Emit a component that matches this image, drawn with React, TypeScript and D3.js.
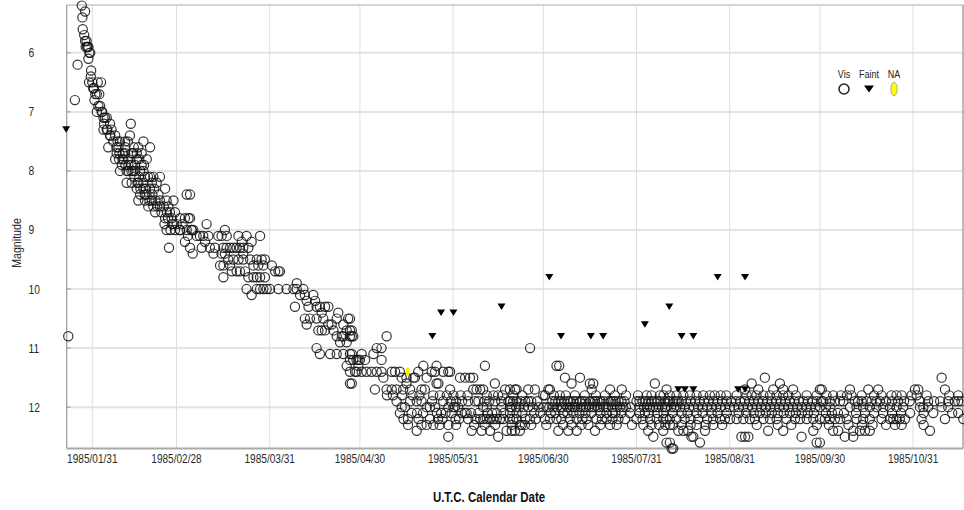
import React from "react";
import * as d3 from "d3";

// Visual estimates, grouped as [magnitude, [day offsets from 1985-01-01 (UTC)]]
type MagRow = [number, number[]];

const visJanFeb: MagRow[] = [
  [5.2, [26.5]],
  [5.3, [27.6]],
  [5.4, [26.7]],
  [5.6, [26.8]],
  [5.7, [27.3]],
  [5.8, [27.6, 28.1]],
  [5.9, [27.8, 28.3, 28.4, 28.7]],
  [6.0, [29.0, 29.3]],
  [6.1, [28.7]],
  [6.2, [25.1]],
  [6.3, [29.6]],
  [6.4, [29.5]],
  [6.5, [28.9, 30.0, 31.8, 32.9]],
  [6.6, [30.3, 30.5]],
  [6.7, [31.0, 31.5, 32.3]],
  [6.8, [24.2, 30.7]],
  [6.9, [32.0, 32.6]],
  [7.0, [31.5, 33.1, 33.3]],
  [7.1, [33.7, 34.2, 34.8]],
  [7.2, [33.9, 35.9, 42.8]],
  [7.3, [33.7, 34.8, 35.0, 36.4]],
  [7.4, [35.9, 36.0, 37.6, 42.5]],
  [7.5, [37.0, 38.4, 39.2, 40.9, 41.8, 47.0]],
  [7.6, [35.3, 38.0, 38.7, 41.0, 43.8, 45.3, 49.2]],
  [7.7, [38.1, 39.0, 40.1, 40.9, 43.1, 43.6, 44.8, 46.4]],
  [7.8, [37.6, 38.9, 40.0, 40.3, 42.0, 44.8, 45.6, 48.1]],
  [7.9, [39.8, 41.0, 42.0, 43.0, 44.2, 46.4, 47.2]],
  [8.0, [39.2, 41.4, 42.0, 43.0, 43.6, 44.3, 45.9, 47.0]],
  [8.1, [44.0, 45.6, 47.5, 48.5, 49.2, 50.3, 52.5]],
  [8.2, [41.4, 43.1, 45.0, 45.3, 47.0, 49.8, 51.4]],
  [8.3, [44.8, 46.0, 47.0, 47.8, 49.2, 50.6, 54.2]],
  [8.4, [45.9, 47.5, 48.0, 50.0, 52.0]],
  [8.5, [45.3, 47.5, 49.0, 49.8, 51.0, 52.5, 54.7, 57.0]],
  [8.6, [48.6, 50.3, 51.6, 52.5, 53.8, 55.3]],
  [8.7, [50.9, 53.0, 54.8, 55.8, 57.5]],
  [8.8, [54.2, 55.2, 56.4]],
  [8.9, [54.0, 56.5, 57.0, 58.1]],
  [9.0, [54.7, 56.0, 57.5]],
  [9.3, [55.5]],
  [10.8, [22.0]],
];

const visMarApr: MagRow[] = [
  [8.4, [61.4, 62.5]],
  [8.8, [59.2, 60.8, 62.0, 62.5]],
  [8.9, [60.0, 68.0]],
  [9.0, [59.1, 59.2, 61.4, 63.0, 63.1, 63.6, 74.1]],
  [9.1, [61.8, 64.7, 65.8, 66.9, 68.6, 71.9, 73.0, 74.7, 78.6, 81.3, 85.8]],
  [9.2, [60.8, 67.5, 79.7, 83.0]],
  [9.3, [62.5, 66.4, 69.1, 70.8, 73.6, 74.7, 75.8, 76.9, 78.0, 79.1, 80.2, 81.9]],
  [9.4, [63.4, 70.3, 73.0, 74.1, 80.2]],
  [9.5, [75.2, 76.9, 78.6, 80.2, 82.5, 84.7, 86.3, 87.4]],
  [9.6, [72.5, 73.6, 75.8, 83.6, 85.2, 86.9, 89.7]],
  [9.7, [76.4, 78.0, 79.1, 80.8, 90.8, 91.9, 92.4]],
  [9.8, [73.6, 81.9, 83.6, 84.7, 85.8, 87.4]],
  [9.9, [98.0]],
  [10.0, [81.3, 84.7, 85.8, 86.9, 88.0, 89.1, 91.9, 94.6, 96.9, 98.0, 100.2]],
  [10.1, [83.0, 99.1, 100.7, 103.5]],
  [10.2, [101.3, 104.1]],
  [10.3, [97.4, 101.9, 104.6, 105.7, 107.4, 108.5]],
  [10.4, [106.3, 111.8]],
  [10.5, [100.7, 102.4, 104.6, 106.8, 111.3, 115.1, 115.7]],
  [10.6, [101.3, 108.5, 109.6, 113.5]],
  [10.7, [105.2, 106.3, 107.4, 110.2, 114.6, 115.7, 116.3]],
  [10.8, [111.3, 113.0, 113.5, 115.7, 116.3, 116.8]],
  [10.9, [112.4, 114.6]],
  [11.0, [104.6]],
  [11.1, [105.7, 109.1, 111.3, 113.5, 115.7, 116.3, 119.6]],
  [11.2, [115.7, 116.8, 117.9, 118.5, 119.0]],
  [11.3, [114.6, 118.5]],
  [11.4, [115.7, 117.4, 117.9, 119.6]],
  [11.6, [115.7, 116.3]],
];

const visMayJun: MagRow[] = [
  [10.8, [127.9]],
  [11.0, [124.6, 126.2, 175.6]],
  [11.1, [123.5]],
  [11.2, [120.7, 126.2]],
  [11.3, [140.1, 144.5, 160.6]],
  [11.4, [121.2, 122.9, 124.6, 126.2, 129.6, 130.7, 132.3, 138.4, 142.9, 144.0, 146.7, 148.4, 149.0]],
  [11.5, [126.8, 132.9, 134.5, 136.8, 137.3, 141.2, 152.3, 154.0, 155.6, 156.7]],
  [11.6, [134.5, 144.5, 145.1, 163.9]],
  [11.7, [124.0, 127.9, 129.6, 131.2, 133.4, 135.7, 139.5, 140.6, 149.0, 156.7, 157.8, 159.0, 160.0, 167.3, 168.9, 170.6, 171.1, 175.0, 177.2]],
  [11.8, [128.0, 130.0, 133.0, 136.5, 138.8, 143.4, 145.6, 147.9, 150.1, 152.5, 154.8, 161.2, 163.4, 165.0, 166.5, 170.0, 173.0, 180.0]],
  [11.9, [131.2, 135.7, 137.9, 139.5, 143.0, 146.7, 149.2, 151.0, 153.0, 155.0, 157.3, 158.4, 160.5, 162.0, 164.0, 166.0, 168.4, 169.0, 170.0, 171.1, 172.5, 174.0, 175.0, 176.0, 178.0]],
  [12.0, [132.9, 134.0, 141.2, 142.3, 144.0, 148.4, 150.1, 150.6, 151.7, 160.0, 161.2, 166.1, 168.9, 169.5, 171.0, 172.0, 173.5, 175.0, 176.5, 178.5, 180.0]],
  [12.1, [132.3, 136.2, 138.0, 140.0, 144.6, 146.0, 147.5, 149.5, 152.8, 153.9, 154.5, 156.0, 158.4, 161.5, 163.0, 164.5, 166.8, 168.9, 171.1, 173.0, 177.0, 179.0]],
  [12.2, [133.5, 135.0, 138.5, 142.3, 145.0, 146.5, 150.8, 152.0, 155.0, 157.5, 159.0, 160.0, 161.2, 162.3, 163.4, 164.5, 165.6, 166.7, 168.9, 170.0, 171.1, 174.0, 175.6, 177.5, 180.5]],
  [12.3, [135.0, 139.5, 141.2, 143.4, 145.5, 148.4, 151.0, 157.0, 160.5, 164.0, 169.5, 172.2, 172.8, 173.9, 176.0]],
  [12.4, [137.9, 156.2, 159.5, 162.3, 167.8, 169.5, 170.6, 172.2]],
  [12.5, [148.4, 165.0]],
];

const visJulAug: MagRow[] = [
  [11.3, [184.4, 185.3]],
  [11.5, [187.2, 192.2]],
  [11.6, [189.4, 195.5, 196.6, 217.1]],
  [11.7, [181.7, 182.2, 196.1, 202.2, 206.1, 221.0]],
  [11.8, [180.6, 183.5, 185.5, 187.5, 190.5, 193.8, 197.5, 200.5, 203.8, 207.5, 211.5, 214.4, 216.0, 218.8, 220.0, 222.1, 224.3, 226.6, 228.8, 231.0, 233.2, 235.4, 237.0, 239.0, 240.9]],
  [11.9, [183.0, 184.0, 185.0, 186.0, 187.0, 188.3, 189.0, 190.0, 191.0, 192.2, 193.0, 194.0, 195.5, 196.5, 197.2, 198.0, 199.0, 200.0, 201.6, 202.5, 203.3, 204.0, 205.0, 206.0, 207.0, 211.0, 212.0, 213.0, 214.0, 215.0, 216.0, 217.0, 218.0, 219.0, 220.5, 221.5, 222.0, 223.2, 224.0, 225.0, 226.0, 227.5, 229.0, 230.5, 232.0, 233.5, 235.0, 236.5, 238.0, 239.5, 241.0, 242.5]],
  [12.0, [181.1, 182.0, 183.3, 184.5, 185.8, 186.5, 188.0, 188.9, 189.8, 190.5, 191.3, 192.5, 193.3, 194.2, 195.2, 196.2, 197.0, 198.0, 198.8, 200.0, 200.8, 201.5, 203.0, 204.5, 205.5, 206.6, 207.5, 209.0, 212.0, 213.5, 214.5, 215.5, 216.5, 217.5, 218.3, 219.5, 220.5, 221.0, 222.5, 223.5, 224.3, 225.5, 227.0, 228.5, 230.0, 231.5, 233.0, 234.5, 236.0, 237.5, 239.0, 240.5, 242.0]],
  [12.1, [182.5, 184.0, 186.6, 188.0, 190.0, 192.0, 194.0, 196.0, 199.0, 201.0, 203.0, 204.0, 206.0, 208.8, 212.0, 213.8, 215.0, 218.0, 220.0, 223.0, 226.0, 228.0, 231.0, 233.0, 236.0, 238.0, 241.0]],
  [12.2, [182.2, 184.4, 186.0, 188.8, 191.1, 193.0, 194.4, 197.7, 199.5, 201.1, 203.0, 205.0, 207.2, 211.0, 213.0, 215.5, 217.7, 219.9, 221.0, 222.1, 224.3, 227.0, 229.0, 231.5, 234.5, 236.5, 238.8, 240.4, 242.1]],
  [12.3, [181.0, 186.6, 189.4, 192.7, 195.0, 199.0, 202.2, 204.4, 209.5, 213.3, 216.0, 218.5, 220.6, 222.1, 223.2, 226.0, 229.0, 231.0, 234.0, 236.5, 239.5]],
  [12.4, [185.0, 188.3, 191.1, 197.2, 214.9, 219.9, 224.9, 226.6, 228.2, 233.8]],
  [12.5, [216.6, 229.3, 229.9]],
  [12.6, [221.0, 222.1, 232.1]],
  [12.7, [222.7, 223.2]],
];

const visSepNov: MagRow[] = [
  [11.5, [253.7, 312.5]],
  [11.6, [249.3, 258.7]],
  [11.7, [247.1, 251.5, 256.5, 259.8, 263.1, 272.0, 272.6, 282.0, 288.1, 291.4, 303.6, 304.7, 313.6]],
  [11.8, [244.3, 247.6, 249.3, 250.9, 253.2, 255.4, 257.6, 259.8, 261.5, 264.0, 267.6, 270.9, 274.2, 276.4, 279.0, 281.0, 282.5, 285.9, 290.0, 292.5, 295.8, 297.5, 299.2, 302.5, 304.2, 307.5, 315.0, 318.0]],
  [11.9, [244.0, 245.5, 247.0, 248.5, 250.0, 251.5, 253.0, 254.5, 256.0, 257.5, 259.0, 260.5, 262.0, 263.5, 265.0, 266.5, 268.0, 269.5, 271.0, 272.5, 273.1, 275.3, 277.0, 278.7, 279.8, 283.6, 284.7, 285.9, 287.5, 289.2, 290.8, 292.0, 294.0, 296.0, 298.0, 300.0, 301.9, 305.3, 308.0, 310.0, 312.0, 314.7, 316.9, 318.0, 319.1]],
  [12.0, [243.5, 245.0, 246.5, 248.0, 249.5, 251.0, 252.5, 254.0, 255.5, 257.0, 258.5, 260.0, 261.5, 263.0, 264.5, 266.0, 267.5, 269.0, 270.5, 272.0, 274.0, 275.5, 282.0, 284.2, 286.4, 288.6, 290.8, 293.1, 295.3, 297.5, 299.7, 305.3, 306.4, 308.0, 312.5, 314.7]],
  [12.1, [245.0, 247.5, 250.0, 252.0, 254.0, 256.0, 258.0, 260.0, 262.0, 264.0, 266.0, 268.0, 270.0, 274.0, 276.0, 278.0, 280.0, 284.0, 287.0, 290.0, 293.0, 296.0, 299.0, 302.0, 306.5, 309.7, 316.0, 318.0]],
  [12.2, [244.3, 246.5, 248.7, 250.4, 253.2, 255.4, 257.6, 260.9, 263.7, 265.4, 267.6, 269.8, 272.0, 273.7, 275.3, 277.0, 278.7, 280.9, 284.2, 286.4, 288.6, 292.5, 295.3, 296.4, 297.5, 298.6, 300.3, 305.8, 313.6, 319.7]],
  [12.3, [251.0, 258.0, 262.5, 271.0, 275.0, 281.5, 286.0, 289.5, 294.0, 297.0, 299.2, 306.5]],
  [12.4, [254.8, 259.8, 269.8, 276.4, 278.1, 283.1, 285.3, 287.0, 288.6, 308.6]],
  [12.5, [245.9, 247.1, 248.2, 265.9, 280.3, 283.1]],
  [12.6, [270.9, 272.0]],
];

// Fainter-than estimates: [day offset, magnitude]
const faintObs: [number, number][] = [
  [21.3, 7.3], [143.1, 10.8], [146.0, 10.4], [150.1, 10.4], [166.1, 10.3],
  [182.0, 9.8], [185.9, 10.8], [195.8, 10.8], [199.9, 10.8], [213.8, 10.6],
  [221.9, 10.3], [224.9, 11.7], [226.0, 10.8], [227.1, 11.7], [229.9, 10.8],
  [229.9, 11.7], [238.0, 9.8], [244.8, 11.7], [247.1, 9.8], [247.1, 11.7],
];

// Observations without a type
const naObs: [number, number][] = [[134.9, 11.4]];

const magTicks = [6, 7, 8, 9, 10, 11, 12];
const dateTickLabels = [
  "1985/01/31", "1985/02/28", "1985/03/31", "1985/04/30", "1985/05/31",
  "1985/06/30", "1985/07/31", "1985/08/31", "1985/09/30", "1985/10/31",
];
const legendLabels = ["Vis", "Faint", "NA"];

const W = 964;
const H = 510;
const plot = { left: 66.7, right: 963, top: 5, bottom: 448.5 };
const EPOCH = Date.UTC(1985, 0, 1);
const DAY_MS = 86400000;
const toDate = (d: number) => new Date(EPOCH + d * DAY_MS);
const FONT = "'Liberation Sans', Arial, Helvetica, sans-serif";

type TextProps = {
  x: number;
  y: number;
  size: number;
  anchor?: "start" | "middle" | "end";
  weight?: string | number;
  rotate?: number;
  fill?: string;
  children: React.ReactNode;
};

// Narrow sans text: regular sans squeezed horizontally
function NarrowText({ x, y, size, anchor = "middle", weight = "normal", rotate = 0, fill = "#2a2a2a", children }: TextProps) {
  const rot = rotate ? ` rotate(${rotate})` : "";
  return (
    <text
      transform={`translate(${x},${y})${rot} scale(0.82,1)`}
      fontSize={size}
      fontFamily={FONT}
      fontWeight={weight}
      textAnchor={anchor}
      fill={fill}
    >
      {children}
    </text>
  );
}

export default function App() {
  const x = d3.scaleUtc().domain([toDate(21.48), toDate(319.6)]).range([plot.left, plot.right]);
  const y = d3.scaleLinear().domain([5.19, 12.7]).range([plot.top, plot.bottom]);
  const parseTick = d3.utcParse("%Y/%m/%d");

  const visPoints = [visJanFeb, visMarApr, visMayJun, visJulAug, visSepNov].flatMap((rows) =>
    rows.flatMap(([mag, days]) => days.map((d) => ({ d, mag })))
  );

  const tri = (cx: number, cy: number, w: number, h: number) =>
    `M${cx - w / 2},${cy - h / 2}L${cx + w / 2},${cy - h / 2}L${cx},${cy + h / 2}Z`;

  const legendX = [844, 869, 894];

  return (
    <svg
      width={W}
      height={H}
      viewBox={`0 0 ${W} ${H}`}
      style={{ position: "absolute", left: 0, top: 0, background: "#fff" }}
    >
      <rect x={0} y={0} width={W} height={H} fill="#fff" />

      {/* horizontal grid */}
      {magTicks.map((m) => (
        <line key={`hg${m}`} x1={plot.left} x2={plot.right} y1={y(m)} y2={y(m)} stroke="#e4e4e4" strokeWidth={2} />
      ))}
      {/* vertical grid */}
      {dateTickLabels.map((lbl) => {
        const xx = x(parseTick(lbl) as Date);
        return <line key={`vg${lbl}`} x1={xx} x2={xx} y1={plot.top} y2={plot.bottom} stroke="#dedede" strokeWidth={1} />;
      })}

      {/* frame */}
      <line x1={plot.left} x2={plot.right} y1={plot.top} y2={plot.top} stroke="#aaa" strokeWidth={1} />
      <line x1={plot.right} x2={plot.right} y1={plot.top} y2={plot.bottom} stroke="#777" strokeWidth={1} />
      <line x1={plot.left} x2={plot.left} y1={plot.top} y2={plot.bottom} stroke="#999" strokeWidth={1.2} />
      <line x1={plot.left} x2={plot.right} y1={plot.bottom} y2={plot.bottom} stroke="#aaa" strokeWidth={2} />

      {/* y ticks and labels */}
      {magTicks.map((m) => (
        <g key={`yt${m}`}>
          <line x1={plot.left} x2={plot.left + 4} y1={y(m)} y2={y(m)} stroke="#999" strokeWidth={1} />
          <NarrowText x={28.5} y={y(m) + 4.5} size={12.5} anchor="start">
            {m}
          </NarrowText>
        </g>
      ))}

      {/* x tick labels */}
      {dateTickLabels.map((lbl) => (
        <NarrowText key={`xt${lbl}`} x={x(parseTick(lbl) as Date)} y={463.3} size={12.3}>
          {lbl}
        </NarrowText>
      ))}

      {/* axis titles */}
      <NarrowText x={21} y={243} size={13} rotate={-90}>
        Magnitude
      </NarrowText>
      <NarrowText x={489} y={501.7} size={14} weight="bold" fill="#111">
        U.T.C. Calendar Date
      </NarrowText>

      {/* visual observations */}
      <g fill="none" stroke="#111" strokeWidth={1.2} strokeOpacity={0.85}>
        {visPoints.map((p, i) => (
          <circle key={`v${i}`} cx={x(toDate(p.d))} cy={y(p.mag)} r={4.6} />
        ))}
      </g>

      {/* fainter-than marks */}
      <g fill="#000">
        {faintObs.map(([d, m], i) => (
          <path key={`f${i}`} d={tri(x(toDate(d)), y(m), 8, 6.5)} />
        ))}
      </g>

      {/* untyped observations */}
      {naObs.map(([d, m], i) => (
        <ellipse key={`n${i}`} cx={x(toDate(d))} cy={y(m)} rx={1.8} ry={4.3} fill="#f2f200" />
      ))}

      {/* legend */}
      {legendLabels.map((lbl, i) => (
        <NarrowText key={`lg${lbl}`} x={legendX[i]} y={78.3} size={11} fill="#222">
          {lbl}
        </NarrowText>
      ))}
      <circle cx={legendX[0]} cy={89} r={5} fill="none" stroke="#222" strokeWidth={1.5} />
      <path d={tri(legendX[1], 89, 10, 7)} fill="#000" />
      <ellipse cx={legendX[2]} cy={89} rx={3.2} ry={6.8} fill="#ffff00" stroke="#999" strokeWidth={0.8} />
    </svg>
  );
}
